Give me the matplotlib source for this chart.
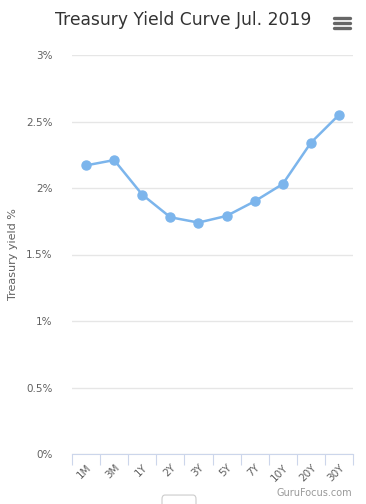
import matplotlib.pyplot as plt
from matplotlib.patches import FancyBboxPatch
plt.rcParams["font.family"] = "DejaVu Sans"

# data
terms = ["1M", "3M", "1Y", "2Y", "3Y", "5Y", "7Y", "10Y", "20Y", "30Y"]
yields = [2.17, 2.21, 1.95, 1.78, 1.74, 1.79, 1.90, 2.03, 2.34, 2.55]
yticks = [0, 0.5, 1, 1.5, 2, 2.5, 3]
ytick_labels = ["0%", "0.5%", "1%", "1.5%", "2%", "2.5%", "3%"]

W, H = 366, 504
fig = plt.figure(figsize=(W / 100, H / 100), dpi=100)
ax = fig.add_axes([72 / W, 1 - 454 / H, (353 - 72) / W, (454 - 55) / H])

x = list(range(len(terms)))
ax.plot(x, yields, color="#7cb5ec", lw=1.8, marker="o", ms=6.5, zorder=3)

ax.set_xlim(-0.5, len(terms) - 0.5)
ax.set_ylim(0, 3)
ax.set_yticks(yticks)
ax.set_yticklabels(ytick_labels)
ax.grid(axis="y", color="#e6e6e6", lw=1)
ax.set_axisbelow(True)
for s in ["top", "right", "left"]:
    ax.spines[s].set_visible(False)
ax.spines["bottom"].set_color("#ccd6eb")
ax.tick_params(axis="y", length=0, labelsize=7.5, labelcolor="#606060", pad=14)

# category ticks at the boundaries, labels at centers
ax.set_xticks([i - 0.5 for i in range(len(terms) + 1)])
ax.set_xticklabels([])
ax.tick_params(axis="x", which="major", length=8, color="#ccd6eb", direction="out")
ax.set_xticks(x, minor=True)
ax.set_xticklabels(terms, minor=True, rotation=45, ha="right", rotation_mode="anchor",
                   fontsize=7.5, color="#606060")
ax.tick_params(axis="x", which="minor", length=0, pad=6)

ax.set_ylabel("Treasury yield %", fontsize=8, color="#606060", labelpad=6)

fig.text(183 / W, 1 - 20 / H, "Treasury Yield Curve Jul. 2019", ha="center", va="center",
         fontsize=12.3, color="#333333")

# menu icon
for dy in (-5, 0, 5):
    fig.add_artist(plt.Line2D([334 / W, 350 / W], [1 - (23 + dy) / H] * 2,
                              color="#666666", lw=2.4, solid_capstyle="round"))

fig.text(352 / W, 1 - 493 / H, "GuruFocus.com", ha="right", va="center",
         fontsize=7, color="#999999")

fig.add_artist(FancyBboxPatch((162 / W, -0.01), 34 / W, 14 / H,
                              boxstyle="round,pad=0,rounding_size=0.008",
                              transform=fig.transFigure, fc="white", ec="#cccccc", lw=0.8))

fig.savefig("out.png", dpi=100)
